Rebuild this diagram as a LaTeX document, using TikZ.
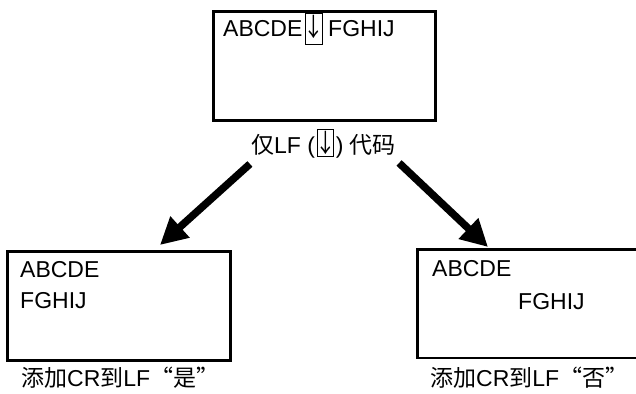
\documentclass[tikz,border=0pt]{standalone}
\usepackage{fontspec}
\setmainfont{Liberation Sans}
\newfontfamily\cjk{Noto Sans CJK SC}
\usetikzlibrary{arrows.meta,positioning}

% framed LF mark: #1 height above baseline, #2 depth, #3 inner width
\newcommand{\lfmark}[3]{{\setlength{\fboxsep}{1pt}\setlength{\fboxrule}{0.9pt}%
  \fbox{\makebox[#3]{\rule[-#2]{0pt}{\dimexpr#1+#2\relax}\raisebox{0.5pt}{\cjk\scalebox{0.9}[1.1]{↓}}}}}}

\begin{document}
\begin{tikzpicture}[x=1pt,y=-1pt,
    box/.style={draw, line width=2.7pt, inner sep=0pt, outer sep=0pt, anchor=north west},
    txt/.style={inner sep=0pt, font=\fontsize{23}{27}\selectfont},
    bigarrow/.style={-{Triangle[length=27pt,width=27pt]}, line width=7.5pt}]
    \useasboundingbox (0,0) rectangle (636,393);
    \clip (0,0) rectangle (636,393);

    % boxes
    \node (src) [box, minimum width=222pt, minimum height=109pt] at (213.5,11.5) {};
    \node (yes) [box, minimum width=223pt, minimum height=109pt] at (7.5,251.5) {};
    \node (no)  [box, minimum width=224pt, minimum height=108.5pt] at (417.5,249.5) {};

    % box contents
    \node (srctext) [txt, anchor=base west] at ([shift={(9.5,25.5)}]src.north west)
        {ABCDE\hspace{3pt}\lfmark{22pt}{6pt}{14pt}\hspace{5pt}FGHIJ};
    \node (yesA) [txt, anchor=base west] at ([shift={(12.5,25.5)}]yes.north west) {ABCDE};
    \node (yesF) [txt, anchor=base west] at ([shift={(0,31)}]yesA.base west) {FGHIJ};
    \node (noA)  [txt, anchor=base west] at ([shift={(14.5,26.5)}]no.north west) {ABCDE};
    \node (noF)  [txt, anchor=base west] at ([shift={(86,33)}]noA.base west) {FGHIJ};

    % captions
    \node (srclabel) [txt, anchor=base] at ([shift={(-1,32.5)}]src.south)
        {{\cjk 仅}LF (\hspace{2pt}\lfmark{20pt}{0pt}{13pt}\hspace{2pt}) {\cjk 代码}};
    \node (yeslabel) [txt, anchor=base west] at (21,386.5) {{\cjk 添加}CR{\cjk 到}LF{\cjk “是”}};
    \node (nolabel)  [txt, anchor=base west] at (430,386.5) {{\cjk 添加}CR{\cjk 到}LF{\cjk “否”}};

    % arrows
    \draw[bigarrow] ([shift={(-1,6)}]srclabel.south west) -- ([shift={(152.5,-6.5)}]yes.north west);
    \draw[bigarrow] ([shift={(3,5)}]srclabel.south east) -- ([shift={(70.5,-2.5)}]no.north west);
\end{tikzpicture}
\end{document}
